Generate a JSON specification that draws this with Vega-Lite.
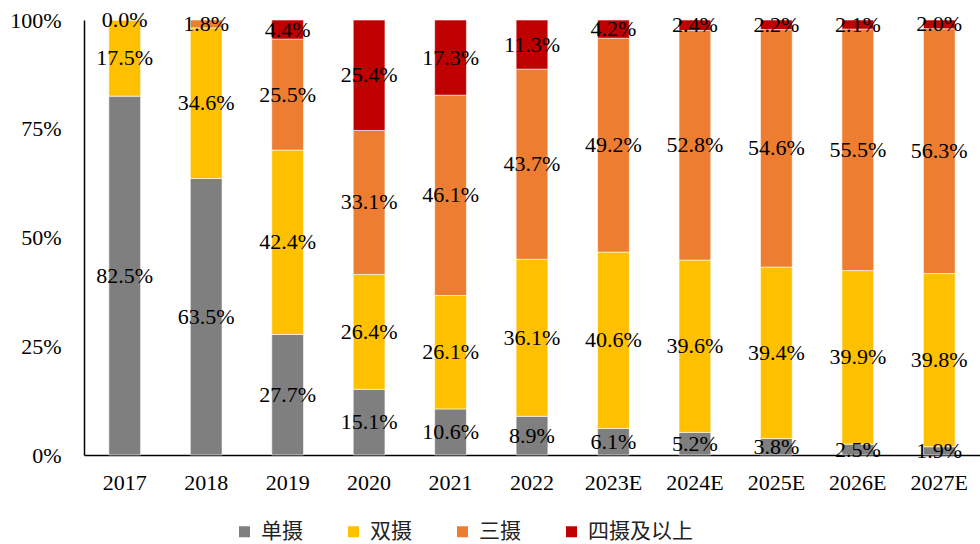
{
  "$schema": "https://vega.github.io/schema/vega-lite/v6.json",
  "autosize": {"type": "none"},
  "padding": {"left": 84, "top": 20, "right": 0, "bottom": 89},
  "width": 896,
  "height": 435,
  "background": "white",
  "config": {
    "view": {"stroke": null},
    "font": "Liberation Serif"
  },
  "data": {
    "values": [
      {"year": "2017", "series": "单摄", "k": 1, "v": 0.825},
      {"year": "2017", "series": "双摄", "k": 2, "v": 0.175},
      {"year": "2017", "series": "四摄及以上", "k": 4, "v": 0.0},
      {"year": "2018", "series": "单摄", "k": 1, "v": 0.635},
      {"year": "2018", "series": "双摄", "k": 2, "v": 0.346},
      {"year": "2018", "series": "三摄", "k": 3, "v": 0.018},
      {"year": "2019", "series": "单摄", "k": 1, "v": 0.277},
      {"year": "2019", "series": "双摄", "k": 2, "v": 0.424},
      {"year": "2019", "series": "三摄", "k": 3, "v": 0.255},
      {"year": "2019", "series": "四摄及以上", "k": 4, "v": 0.044},
      {"year": "2020", "series": "单摄", "k": 1, "v": 0.151},
      {"year": "2020", "series": "双摄", "k": 2, "v": 0.264},
      {"year": "2020", "series": "三摄", "k": 3, "v": 0.331},
      {"year": "2020", "series": "四摄及以上", "k": 4, "v": 0.254},
      {"year": "2021", "series": "单摄", "k": 1, "v": 0.106},
      {"year": "2021", "series": "双摄", "k": 2, "v": 0.261},
      {"year": "2021", "series": "三摄", "k": 3, "v": 0.461},
      {"year": "2021", "series": "四摄及以上", "k": 4, "v": 0.173},
      {"year": "2022", "series": "单摄", "k": 1, "v": 0.089},
      {"year": "2022", "series": "双摄", "k": 2, "v": 0.361},
      {"year": "2022", "series": "三摄", "k": 3, "v": 0.437},
      {"year": "2022", "series": "四摄及以上", "k": 4, "v": 0.113},
      {"year": "2023E", "series": "单摄", "k": 1, "v": 0.061},
      {"year": "2023E", "series": "双摄", "k": 2, "v": 0.406},
      {"year": "2023E", "series": "三摄", "k": 3, "v": 0.492},
      {"year": "2023E", "series": "四摄及以上", "k": 4, "v": 0.042},
      {"year": "2024E", "series": "单摄", "k": 1, "v": 0.052},
      {"year": "2024E", "series": "双摄", "k": 2, "v": 0.396},
      {"year": "2024E", "series": "三摄", "k": 3, "v": 0.528},
      {"year": "2024E", "series": "四摄及以上", "k": 4, "v": 0.024},
      {"year": "2025E", "series": "单摄", "k": 1, "v": 0.038},
      {"year": "2025E", "series": "双摄", "k": 2, "v": 0.394},
      {"year": "2025E", "series": "三摄", "k": 3, "v": 0.546},
      {"year": "2025E", "series": "四摄及以上", "k": 4, "v": 0.022},
      {"year": "2026E", "series": "单摄", "k": 1, "v": 0.025},
      {"year": "2026E", "series": "双摄", "k": 2, "v": 0.399},
      {"year": "2026E", "series": "三摄", "k": 3, "v": 0.555},
      {"year": "2026E", "series": "四摄及以上", "k": 4, "v": 0.021},
      {"year": "2027E", "series": "单摄", "k": 1, "v": 0.019},
      {"year": "2027E", "series": "双摄", "k": 2, "v": 0.398},
      {"year": "2027E", "series": "三摄", "k": 3, "v": 0.563},
      {"year": "2027E", "series": "四摄及以上", "k": 4, "v": 0.020}
    ]
  },
  "transform": [
    {"stack": "v", "groupby": ["year"], "offset": "normalize", "sort": [{"field": "k", "order": "ascending"}], "as": ["y0", "y1"]}
  ],
  "encoding": {
    "x": {
      "field": "year", "type": "nominal", "sort": null,
      "scale": {"paddingInner": 0.61, "paddingOuter": 0.305},
      "axis": {"title": null, "labelAngle": 0, "labelFontSize": 22, "labelColor": "black", "labelFont": "Liberation Serif", "ticks": false, "labelPadding": 17, "domainColor": "black", "domainWidth": 1.5}
    }
  },
  "layer": [
    {
      "mark": {"type": "bar", "stroke": "white", "strokeWidth": 0.6},
      "encoding": {
        "y": {
          "field": "y0", "type": "quantitative",
          "scale": {"domain": [0, 1], "nice": false},
          "axis": {"title": null, "values": [0, 0.25, 0.5, 0.75, 1], "format": ".0%", "labelFontSize": 22, "labelColor": "black", "labelFont": "Liberation Serif", "ticks": false, "labelPadding": 23, "grid": false, "domainColor": "black", "domainWidth": 1.5}
        },
        "y2": {"field": "y1"},
        "color": {
          "field": "series", "type": "nominal",
          "scale": {"domain": ["单摄", "双摄", "三摄", "四摄及以上"], "range": ["#7f7f7f", "#ffc000", "#ed7d31", "#c00000"]},
          "legend": {
            "title": null, "orient": "none", "direction": "horizontal", "columns": 4,
            "legendX": 150, "legendY": 501, "padding": 0,
            "symbolType": "square", "symbolSize": 121, "symbolStrokeWidth": 0,
            "labelFontSize": 21, "labelFont": "Noto Sans CJK SC", "labelColor": "#222222",
            "labelOffset": 6, "columnPadding": 40
          }
        }
      }
    },
    {
      "transform": [
        {"fold": ["y0", "y1"], "as": ["edge", "pos"]},
        {"aggregate": [{"op": "mean", "field": "pos", "as": "mid"}], "groupby": ["year", "series", "v"]}
      ],
      "mark": {"type": "text", "fontSize": 22, "font": "Liberation Serif", "color": "black", "baseline": "middle"},
      "encoding": {
        "y": {"field": "mid", "type": "quantitative"},
        "text": {"field": "v", "type": "quantitative", "format": ".1%"}
      }
    }
  ]
}
